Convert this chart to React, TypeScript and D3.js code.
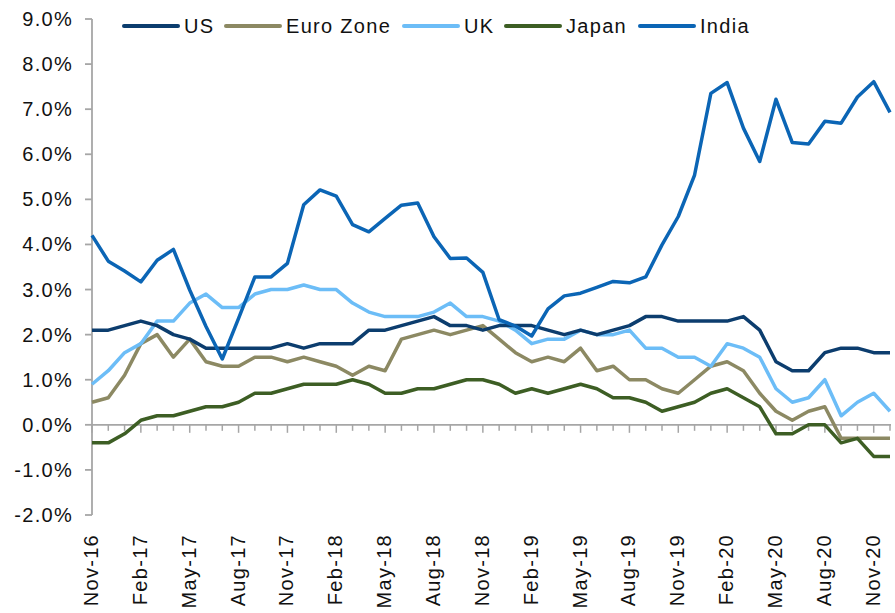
import React from "react";
import * as d3 from "d3";

const months = [
  "Nov-16","Dec-16","Jan-17","Feb-17","Mar-17","Apr-17","May-17","Jun-17","Jul-17","Aug-17","Sep-17","Oct-17",
  "Nov-17","Dec-17","Jan-18","Feb-18","Mar-18","Apr-18","May-18","Jun-18","Jul-18","Aug-18","Sep-18","Oct-18",
  "Nov-18","Dec-18","Jan-19","Feb-19","Mar-19","Apr-19","May-19","Jun-19","Jul-19","Aug-19","Sep-19","Oct-19",
  "Nov-19","Dec-19","Jan-20","Feb-20","Mar-20","Apr-20","May-20","Jun-20","Jul-20","Aug-20","Sep-20","Oct-20",
  "Nov-20","Dec-20"
];

const tickLabels = [
  "Nov-16","Feb-17","May-17","Aug-17","Nov-17","Feb-18","May-18","Aug-18","Nov-18",
  "Feb-19","May-19","Aug-19","Nov-19","Feb-20","May-20","Aug-20","Nov-20"
];

const yTicks = [-2, -1, 0, 1, 2, 3, 4, 5, 6, 7, 8, 9];

const us = [
  2.1, 2.1, 2.2,
  2.3, 2.2, 2.0, 1.9, 1.7, 1.7, 1.7, 1.7, 1.7, 1.8, 1.7, 1.8,
  1.8, 1.8, 2.1, 2.1, 2.2, 2.3, 2.4, 2.2, 2.2, 2.1, 2.2, 2.2,
  2.2, 2.1, 2.0, 2.1, 2.0, 2.1, 2.2, 2.4, 2.4, 2.3, 2.3, 2.3,
  2.3, 2.4, 2.1, 1.4, 1.2, 1.2, 1.6, 1.7, 1.7, 1.6, 1.6
];

const euroZone = [
  0.5, 0.6, 1.1,
  1.8, 2.0, 1.5, 1.9, 1.4, 1.3, 1.3, 1.5, 1.5, 1.4, 1.5, 1.4,
  1.3, 1.1, 1.3, 1.2, 1.9, 2.0, 2.1, 2.0, 2.1, 2.2, 1.9, 1.6,
  1.4, 1.5, 1.4, 1.7, 1.2, 1.3, 1.0, 1.0, 0.8, 0.7, 1.0, 1.3,
  1.4, 1.2, 0.7, 0.3, 0.1, 0.3, 0.4, -0.3, -0.3, -0.3, -0.3
];

const uk = [
  0.9, 1.2, 1.6,
  1.8, 2.3, 2.3, 2.7, 2.9, 2.6, 2.6, 2.9, 3.0, 3.0, 3.1, 3.0,
  3.0, 2.7, 2.5, 2.4, 2.4, 2.4, 2.5, 2.7, 2.4, 2.4, 2.3, 2.1,
  1.8, 1.9, 1.9, 2.1, 2.0, 2.0, 2.1, 1.7, 1.7, 1.5, 1.5, 1.3,
  1.8, 1.7, 1.5, 0.8, 0.5, 0.6, 1.0, 0.2, 0.5, 0.7, 0.3
];

const japan = [
  -0.4, -0.4, -0.2,
  0.1, 0.2, 0.2, 0.3, 0.4, 0.4, 0.5, 0.7, 0.7, 0.8, 0.9, 0.9,
  0.9, 1.0, 0.9, 0.7, 0.7, 0.8, 0.8, 0.9, 1.0, 1.0, 0.9, 0.7,
  0.8, 0.7, 0.8, 0.9, 0.8, 0.6, 0.6, 0.5, 0.3, 0.4, 0.5, 0.7,
  0.8, 0.6, 0.4, -0.2, -0.2, 0.0, 0.0, -0.4, -0.3, -0.7, -0.7
];

const india = [
  4.2, 3.63, 3.41,
  3.17, 3.65, 3.89, 2.99, 2.18, 1.46, 2.36, 3.28, 3.28, 3.58, 4.88, 5.21,
  5.07, 4.44, 4.28, 4.58, 4.87, 4.92, 4.17, 3.69, 3.7, 3.38, 2.33, 2.19,
  1.97, 2.57, 2.86, 2.92, 3.05, 3.18, 3.15, 3.28, 3.99, 4.62, 5.54, 7.35,
  7.59, 6.58, 5.84, 7.22, 6.26, 6.23, 6.73, 6.69, 7.27, 7.61, 6.93
];

const seriesNames = ["US", "Euro Zone", "UK", "Japan", "India"];
const seriesColors = ["#0c3d6e", "#8c8963", "#6cbdf7", "#3d5e24", "#0b65b5"];
const seriesData = [us, euroZone, uk, japan, india];

const W = 895;
const H = 613;
const FONT = "'Liberation Sans', Arial, sans-serif";
const AXIS = "#a6a6a6";

export default function App() {
  const x = d3.scalePoint<number>().domain(d3.range(months.length)).range([92, 890]);
  const y = d3.scaleLinear().domain([-2, 9]).range([515, 19]);
  const line = d3
    .line<number>()
    .x((_, i) => x(i) as number)
    .y((d) => y(d));

  const legendLineX = [124, 226, 404, 506, 640];

  // draw order: legend order but India on top-ish like reference
  const drawOrder = [1, 3, 2, 0, 4];

  return (
    <svg
      width={W}
      height={H}
      style={{ position: "absolute", left: 0, top: 0, background: "#fff" }}
      fontFamily={FONT}
    >
      {/* y axis */}
      <line x1={92} x2={92} y1={y(9)} y2={y(-2)} stroke={AXIS} strokeWidth={1.8} />
      {yTicks.map((t) => (
        <g key={t}>
          <line x1={85} x2={92} y1={y(t)} y2={y(t)} stroke={AXIS} strokeWidth={1.8} />
          <text
            x={73}
            y={y(t)}
            dy="0.35em"
            textAnchor="end"
            fontSize={20}
            letterSpacing={1.3}
            fill="#111"
          >
            {t.toFixed(1) + "%"}
          </text>
        </g>
      ))}

      {/* x axis at zero */}
      <line x1={92} x2={891} y1={y(0)} y2={y(0)} stroke={AXIS} strokeWidth={1.8} />
      {months.map((m, i) => (
        <line
          key={m}
          x1={x(i)}
          x2={x(i)}
          y1={y(0)}
          y2={y(0) + (i % 3 === 0 ? 8 : 6)}
          stroke={AXIS}
          strokeWidth={1.5}
        />
      ))}
      {tickLabels.map((lab, k) => {
        const px = (x(k * 3) as number) - 1;
        return (
          <text
            key={lab}
            transform={`translate(${px + 7},534) rotate(-90)`}
            textAnchor="end"
            fontSize={20}
            letterSpacing={1.3}
            fill="#111"
          >
            {lab}
          </text>
        );
      })}

      {/* lines */}
      {drawOrder.map((s) => (
        <path
          key={seriesNames[s]}
          d={line(seriesData[s]) || ""}
          fill="none"
          stroke={seriesColors[s]}
          strokeWidth={3.5}
          strokeLinejoin="round"
        />
      ))}

      {/* legend */}
      {seriesNames.map((n, i) => (
        <g key={n}>
          <line
            x1={legendLineX[i]}
            x2={legendLineX[i] + 54}
            y1={26}
            y2={26}
            stroke={seriesColors[i]}
            strokeWidth={4}
            strokeLinecap="round"
          />
          <text
            x={legendLineX[i] + 60}
            y={33}
            fontSize={20}
            letterSpacing={1.3}
            fill="#111"
          >
            {n}
          </text>
        </g>
      ))}
    </svg>
  );
}
